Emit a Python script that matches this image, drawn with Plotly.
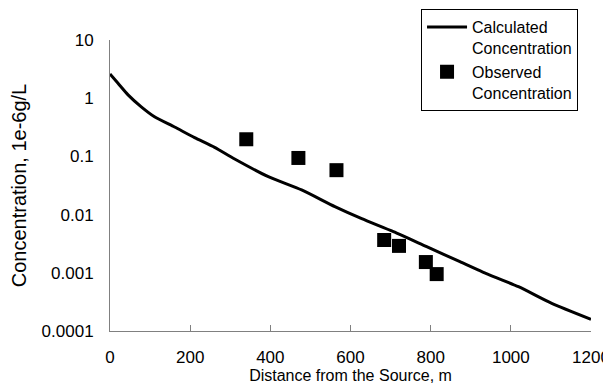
import plotly.graph_objects as go

# Calculated concentration curve (distance m, concentration 1e-6 g/L)
calc_x = [0, 20, 45, 78, 111, 161, 211, 261, 311, 395, 478, 561, 628, 707, 790, 873, 930, 1019, 1102, 1200]
calc_y = [2.6, 1.8, 1.14, 0.71, 0.48, 0.32, 0.21, 0.143, 0.090, 0.0448, 0.0265, 0.0137, 0.0085,
          0.0051, 0.00281, 0.00155, 0.00103, 0.000577, 0.000299, 0.000159]

# Observed concentration
obs_x = [340, 470, 565, 684, 721, 788, 815]
obs_y = [0.197, 0.094, 0.058, 0.00366, 0.0029, 0.00153, 0.00095]

x_ticks = [0, 200, 400, 600, 800, 1000, 1200]
y_ticks = [0.0001, 0.001, 0.01, 0.1, 1, 10]
y_tick_text = ["0.0001", "0.001", "0.01", "0.1", "1", "10"]

font = "Liberation Sans, Arial, sans-serif"

fig = go.Figure()
fig.add_trace(go.Scatter(x=calc_x, y=calc_y, mode="lines",
                         line=dict(color="black", width=3, shape="spline", smoothing=0.6),
                         name="Calculated<br>Concentration"))
fig.add_trace(go.Scatter(x=obs_x, y=obs_y, mode="markers",
                         marker=dict(symbol="square", size=14, color="black"),
                         name="Observed<br>Concentration"))

fig.update_layout(
    width=611, height=387,
    margin=dict(l=102, r=28, t=32, b=64, autoexpand=False),
    plot_bgcolor="white", paper_bgcolor="white",
    font=dict(family=font, size=17, color="black"),
    showlegend=True,
    legend=dict(xref="container", yref="container", x=0.676, y=0.997,
                xanchor="left", yanchor="top", valign="top",
                bordercolor="black", borderwidth=1, bgcolor="white",
                font=dict(size=16), tracegroupgap=0, itemwidth=40),
    xaxis=dict(range=[0, 1200], tickvals=x_ticks, showline=True, linecolor="#808080", linewidth=1,
               ticks="inside", ticklen=6, tickcolor="#808080", showgrid=False, zeroline=False,
               ticklabelstandoff=11, automargin=False,
               title=dict(text="Distance from the Source, m", standoff=0, font=dict(size=16))),
    yaxis=dict(type="log", range=[-4, 1], tickvals=y_ticks, ticktext=y_tick_text,
               showline=True, linecolor="#808080", linewidth=1, ticks="", showgrid=False,
               zeroline=False, ticklabelstandoff=12, automargin=False,
               title=dict(text="Concentration, 1e-6g/L", standoff=10)),
)

fig.write_html("out.html")
